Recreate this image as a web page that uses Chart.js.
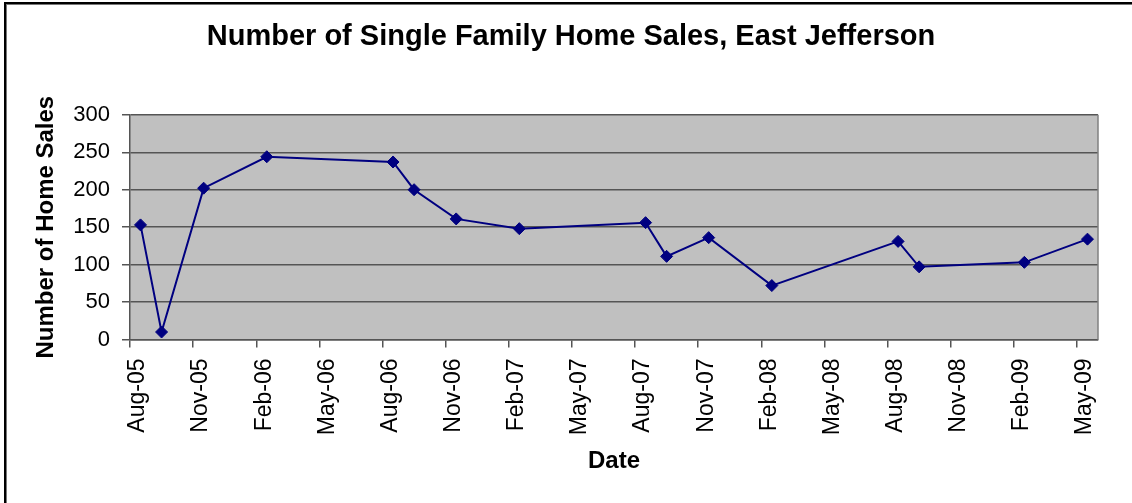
<!DOCTYPE html>
<html>
<head>
<meta charset="utf-8">
<title>Number of Single Family Home Sales, East Jefferson</title>
<script src="https://cdn.jsdelivr.net/npm/chart.js@4"></script>
<style>
  body { margin: 0; background: #fff; }
  #wrap { position: relative; width: 1132px; height: 503px; overflow: hidden; }
  #frame { position: absolute; left: 4px; top: 2px; width: 1200px; height: 600px;
           border-top: 2px solid #000; border-left: 2px solid #000; box-shadow: inset 1px 1px 0 #777; }
  canvas { position: absolute; left: 0; top: 0; }
</style>
</head>
<body>
<div id="wrap">
  <canvas id="line-chart" width="1132" height="503"></canvas>
  <div id="frame"></div>
</div>
<script>
// monthly sales, by month of report
const saleMonths = ["2005-08", "2005-09", "2005-11", "2006-02", "2006-08", "2006-09", "2006-11", "2007-02",
                    "2007-08", "2007-09", "2007-11", "2008-02", "2008-08", "2008-09", "2009-02", "2009-05"];
const homeSales = [153, 10, 202, 244, 237, 200, 161, 148, 156, 111, 136, 72, 131, 97, 103, 134];

const dateTicks = ["Aug-05", "Nov-05", "Feb-06", "May-06", "Aug-06", "Nov-06", "Feb-07", "May-07",
                   "Aug-07", "Nov-07", "Feb-08", "May-08", "Aug-08", "Nov-08", "Feb-09", "May-09"];
const salesTicks = [0, 50, 100, 150, 200, 250, 300];

const MONTHS = ["Jan", "Feb", "Mar", "Apr", "May", "Jun", "Jul", "Aug", "Sep", "Oct", "Nov", "Dec"];
const START_YEAR = 2005, START_MONTH = 7; // Aug-05 is month 0

function monthIndex(year, month) {
  return (year - START_YEAR) * 12 + month - START_MONTH;
}
function tickIndex(label) {
  const [mon, yy] = label.split("-");
  return monthIndex(2000 + Number(yy), MONTHS.indexOf(mon));
}
// points sit in the middle of their month slot
const points = saleMonths.map((m, i) => {
  const [y, mo] = m.split("-").map(Number);
  return { x: monthIndex(y, mo - 1) + 0.5, y: homeSales[i] };
});
const tickLabelAt = {};
dateTicks.forEach(t => { tickLabelAt[tickIndex(t)] = t; });

const FONT = "'Liberation Sans', Arial, sans-serif";
const GRID = "#555555";

const plotArea = {
  id: "plotArea",
  beforeDraw(chart) {
    const { ctx, chartArea: a } = chart;
    ctx.save();
    ctx.fillStyle = "#fff";
    ctx.fillRect(0, 0, chart.width, chart.height);
    ctx.fillStyle = "#c0c0c0";
    ctx.fillRect(a.left, a.top, a.right - a.left, a.bottom - a.top);
    ctx.restore();
  },
  beforeDatasetsDraw(chart) {
    const { ctx, chartArea: a } = chart;
    ctx.save();
    ctx.strokeStyle = "#808080";
    ctx.lineWidth = 1.5;
    ctx.beginPath();
    ctx.moveTo(a.right, a.top);
    ctx.lineTo(a.right, a.bottom);
    ctx.stroke();
    ctx.restore();
  }
};

const chart = new Chart(document.getElementById("line-chart"), {
  type: "line",
  data: {
    datasets: [{
      data: points,
      borderColor: "#000080",
      backgroundColor: "#000080",
      borderWidth: 2,
      pointStyle: "rectRot",
      pointRadius: 6,
      pointBorderWidth: 1,
      tension: 0
    }]
  },
  options: {
    responsive: false,
    animation: false,
    layout: { padding: { left: 44, right: 34, top: 0, bottom: 0 } },
    plugins: {
      legend: { display: false },
      tooltip: { enabled: false },
      title: {
        display: true,
        text: "Number of Single Family Home Sales, East Jefferson",
        color: "#000",
        font: { family: FONT, size: 29, weight: "bold" },
        padding: { top: 20, bottom: 60 }
      }
    },
    scales: {
      x: {
        type: "linear",
        min: 0,
        max: monthIndex(2009, 5),
        afterBuildTicks(scale) {
          scale.ticks = dateTicks.map(t => ({ value: tickIndex(t) }));
        },
        afterFit(scale) { scale.height = 163.5; },
        ticks: {
          autoSkip: false,
          minRotation: 90,
          maxRotation: 90,
          padding: 11,
          labelOffset: 8,
          color: "#000",
          font: { family: FONT, size: 23 },
          callback: v => tickLabelAt[v] || ""
        },
        grid: { drawOnChartArea: false, drawTicks: true, tickLength: 8, color: GRID, lineWidth: 1.5 },
        border: { color: GRID, width: 1.5 },
        title: {
          display: true,
          text: "Date",
          color: "#000",
          font: { family: FONT, size: 24, weight: "bold" },
          padding: { top: 0, bottom: 27 }
        }
      },
      y: {
        min: salesTicks[0],
        max: salesTicks[salesTicks.length - 1],
        afterBuildTicks(scale) {
          scale.ticks = salesTicks.map(v => ({ value: v }));
        },
        afterFit(scale) { scale.width = 86; },
        ticks: {
          padding: 12,
          color: "#000",
          font: { family: FONT, size: 22 }
        },
        grid: { color: GRID, lineWidth: 1.5, tickLength: 8 },
        border: { color: GRID, width: 1.5 },
        title: {
          display: true,
          text: "Number of Home Sales",
          color: "#000",
          font: { family: FONT, size: 24, weight: "bold" },
          padding: { top: -12, bottom: 0 }
        }
      }
    }
  },
  plugins: [plotArea]
});
</script>
</body>
</html>
